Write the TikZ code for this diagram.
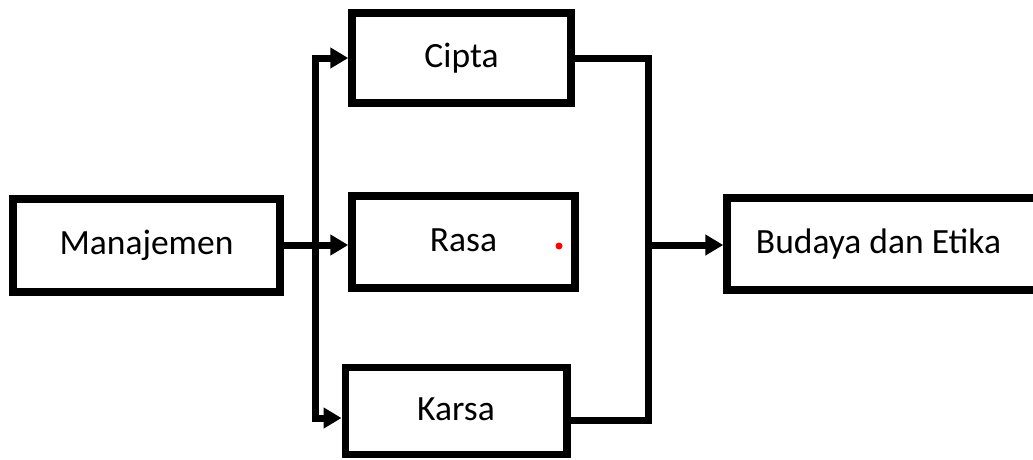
\documentclass[tikz,border=0pt]{standalone}
\usepackage{fontspec}
\setmainfont{Carlito}
\usetikzlibrary{arrows.meta,calc}
\tikzset{
  box/.style={draw=black, line width=7.5pt, rectangle, inner sep=0pt, fill=white,
    font=\fontsize{35.5pt}{40pt}\selectfont, text height=25pt, text depth=7pt},
  conn/.style={draw=black, line width=7pt},
  arr/.style={conn, -{Triangle[length=18pt,width=20pt]}}
}
\begin{document}
\begin{tikzpicture}[x=1pt,y=-1pt]
\useasboundingbox (0,0) rectangle (1033,459);
\node[box, minimum width=267pt, minimum height=93pt] (m) at (146.5,245.5) {Manajemen};
\node[box, minimum width=219pt, minimum height=90pt] (c) at (461.5,58) {Cipta};
\node[box, minimum width=223pt, minimum height=92pt] (r) at (463.5,242) {Rasa};
\node[box, minimum width=221.5pt, minimum height=87pt] (k) at (456,411) {Karsa};
\node[box, minimum width=325pt, minimum height=92pt] (b) at (889.5,244) {\hspace*{-22pt}Budaya dan Etika};
\coordinate (jl) at (315,245);
\coordinate (jr) at (648,245);
\fill[red] (559,246) circle (3.5pt);
\draw[arr] (m.east |- jl) -- (r.west |- jl);
\draw[arr] (jl) |- (c.west);
\draw[arr] (jl) |- ([yshift=-7pt]k.west);
\draw[conn] (c.east) -| (jr);
\draw[conn] ([yshift=-9pt]k.east) -| (jr);
\draw[arr] (jr) -- (jr -| b.west);
\end{tikzpicture}
\end{document}
